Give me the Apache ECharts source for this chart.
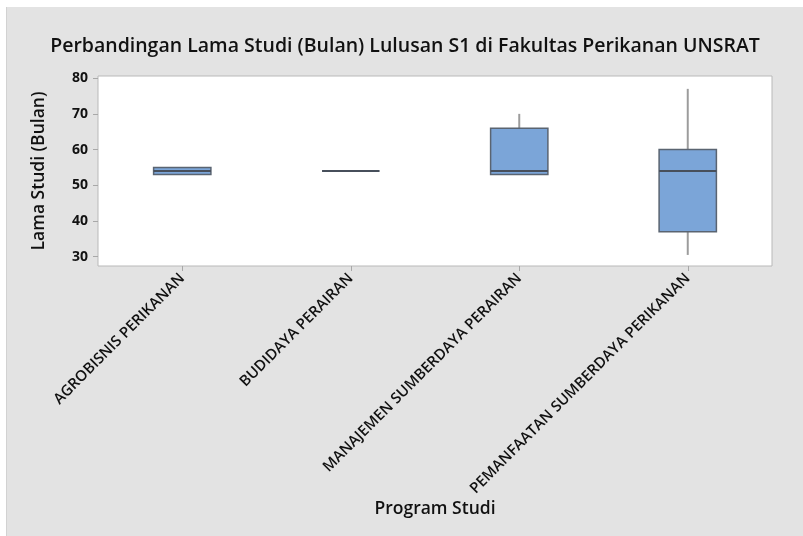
<!DOCTYPE html>
<html>
<head>
<meta charset="utf-8">
<script src="https://cdn.jsdelivr.net/npm/echarts@6/dist/echarts.min.js"></script>
<style>
  html, body { margin: 0; padding: 0; background: #ffffff; }
  #chart { position: absolute; left: 6px; top: 7px; width: 797px; height: 529px;
           background: #e3e3e3; border-left: 1px solid #d2d2d2; box-sizing: border-box; }
</style>
</head>
<body>
<div id="chart"></div>
<script>
  // program studi (kategori sumbu x)
  var categories = ['AGROBISNIS PERIKANAN', 'BUDIDAYA PERAIRAN', 'MANAJEMEN SUMBERDAYA PERAIRAN', 'PEMANFAATAN SUMBERDAYA PERIKANAN'];
  // ringkasan boxplot lama studi (bulan)
  var minVals = [53, 54, 53, 30.5];
  var q1Vals = [53, 54, 53, 37];
  var medVals = [54, 54, 54, 54];
  var q3Vals = [55, 54, 66, 60];
  var maxVals = [55, 54, 70, 77];
  // label sumbu y
  var yTicks = [30, 40, 50, 60, 70, 80];

  var boxData = categories.map(function (c, i) {
    return [i, minVals[i], q1Vals[i], medVals[i], q3Vals[i], maxVals[i]];
  });

  var font = '"Open Sans", "Noto Sans", sans-serif';
  var chart = echarts.init(document.getElementById('chart'));

  function renderBox(params, api) {
    var idx = api.value(0);
    var pMin = api.coord([idx, api.value(1)]);
    var pQ1 = api.coord([idx, api.value(2)]);
    var pMed = api.coord([idx, api.value(3)]);
    var pQ3 = api.coord([idx, api.value(4)]);
    var pMax = api.coord([idx, api.value(5)]);
    var halfW = api.size([1, 0])[0] * 0.17;
    var x = pMed[0];
    var whisker = { stroke: '#9c9c9c', lineWidth: 2 };
    var children = [];
    if (pMax[1] < pQ3[1]) {
      children.push({ type: 'line', shape: { x1: x, y1: pQ3[1], x2: x, y2: pMax[1] }, style: whisker });
    }
    if (pMin[1] > pQ1[1]) {
      children.push({ type: 'line', shape: { x1: x, y1: pQ1[1], x2: x, y2: pMin[1] }, style: whisker });
    }
    children.push({
      type: 'rect',
      shape: { x: x - halfW, y: pQ3[1], width: halfW * 2, height: pQ1[1] - pQ3[1] },
      style: { fill: '#7ba5d8', stroke: '#5a6471', lineWidth: 1.5 }
    });
    children.push({
      type: 'line',
      shape: { x1: x - halfW, y1: pMed[1], x2: x + halfW, y2: pMed[1] },
      style: { stroke: '#474f5b', lineWidth: 2 }
    });
    return { type: 'group', children: children };
  }

  var option = {
    backgroundColor: '#e3e3e3',
    textStyle: { fontFamily: font },
    title: {
      text: 'Perbandingan Lama Studi (Bulan) Lulusan S1 di Fakultas Perikanan UNSRAT',
      left: 'center',
      top: 24,
      textStyle: { fontFamily: font, fontSize: 19.5, fontWeight: 600, color: '#111111' }
    },
    grid: {
      left: 91, right: 31, top: 69, bottom: 270,
      show: true, backgroundColor: '#ffffff', borderColor: '#b9b9b9', borderWidth: 1
    },
    xAxis: {
      type: 'category',
      data: categories,
      name: 'Program Studi',
      nameLocation: 'middle',
      nameGap: 234,
      nameTextStyle: { fontFamily: font, fontSize: 17.5, fontWeight: 600, color: '#111111' },
      axisLine: { show: false },
      axisTick: { show: true, alignWithLabel: true, length: 5, lineStyle: { color: '#a8a8a8' } },
      axisLabel: { interval: 0, rotate: 45, margin: 10, fontFamily: font, fontSize: 15, fontWeight: 600, color: '#111111' },
      splitLine: { show: false }
    },
    yAxis: {
      type: 'value',
      min: 27.4,
      max: 80.6,
      name: 'Lama Studi (Bulan)',
      nameLocation: 'middle',
      nameGap: 50,
      nameTextStyle: { fontFamily: font, fontSize: 17.5, fontWeight: 600, color: '#111111' },
      axisLine: { show: false },
      axisTick: { show: true, length: 5, lineStyle: { color: '#a8a8a8' }, customValues: yTicks },
      axisLabel: { margin: 10, fontFamily: font, fontSize: 14, fontWeight: 700, color: '#111111', customValues: yTicks },
      splitLine: { show: false }
    },
    series: [{
      type: 'custom',
      renderItem: renderBox,
      encode: { x: 0, y: [1, 2, 3, 4, 5] },
      data: boxData
    }]
  };
  chart.setOption(option);
</script>
</body>
</html>
